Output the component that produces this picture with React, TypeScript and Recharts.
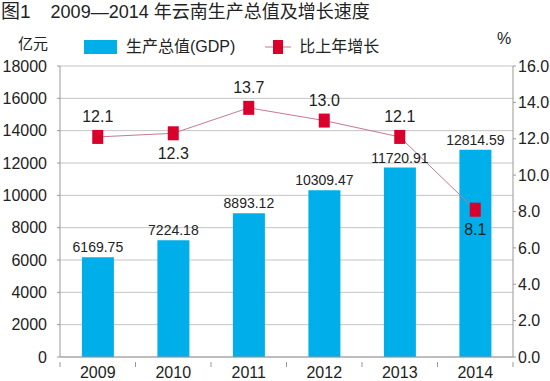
import React from "react";
import {
  ComposedChart,
  Bar,
  Line,
  XAxis,
  YAxis,
  CartesianGrid,
  LabelList,
} from "recharts";

const years = ["2009", "2010", "2011", "2012", "2013", "2014"];
const gdp = [6169.75, 7224.18, 8893.12, 10309.47, 11720.91, 12814.59];
const growth = [12.1, 12.3, 13.7, 13.0, 12.1, 8.1];
const gdpTicks = [0, 2000, 4000, 6000, 8000, 10000, 12000, 14000, 16000, 18000];
const growthTicks = [0, 2, 4, 6, 8, 10, 12, 14, 16];
// which growth labels sit under the marker
const labelBelow = ["2010", "2014"];

const FONT = '"Liberation Sans", "Noto Sans CJK SC", sans-serif';
const BAR_COLOR = "#00aeea";
const MARK_COLOR = "#d9002c";
const LINE_COLOR = "#c47a8c";
const TEXT = "#222";
const AXIS = "#999";

const data = years.map((y, i) => ({ year: y, gdp: gdp[i], growth: growth[i] }));

function Square(props: any) {
  const { cx, cy } = props;
  if (cx == null || cy == null) return null;
  return <rect x={cx - 5.5} y={cy - 7} width={11} height={14} fill={MARK_COLOR} />;
}

function GrowthLabel(props: any) {
  const { x, y, value, index } = props;
  const below = labelBelow.includes(years[index]);
  return (
    <text
      x={x}
      y={below ? y + 20 : y - 20}
      textAnchor="middle"
      dominantBaseline="central"
      fontSize={16}
      fill={TEXT}
      fontFamily={FONT}
    >
      {Number(value).toFixed(1)}
    </text>
  );
}

// year label plus small tick marks on the category boundaries
function YearTick(props: any) {
  const { x, y, payload, index } = props;
  const half = payload?.offset;
  const top = y - 4;
  return (
    <g>
      {half ? <line x1={x - half} x2={x - half} y1={top - 1} y2={top + 4} stroke={AXIS} /> : null}
      {half && index === years.length - 1 ? (
        <line x1={x + half} x2={x + half} y1={top - 1} y2={top + 4} stroke={AXIS} />
      ) : null}
      <text x={x} y={y} dy="0.71em" textAnchor="middle" fontSize={16} fill={TEXT} fontFamily={FONT}>
        {payload.value}
      </text>
    </g>
  );
}

function LegendBox() {
  return (
    <div
      style={{
        position: "absolute",
        left: 84,
        top: 38,
        display: "flex",
        alignItems: "center",
        fontFamily: FONT,
        fontSize: 16,
        color: TEXT,
        lineHeight: "18px",
      }}
    >
      <span style={{ display: "inline-block", width: 33, height: 14, background: BAR_COLOR }} />
      <span style={{ marginLeft: 9 }}>生产总值(GDP)</span>
      <svg width={26} height={16} style={{ marginLeft: 30 }}>
        <line x1={0} y1={8} x2={26} y2={8} stroke={LINE_COLOR} strokeWidth={1} />
        <rect x={8} y={1} width={10} height={14} fill={MARK_COLOR} />
      </svg>
      <span style={{ marginLeft: 8 }}>比上年增长</span>
    </div>
  );
}

export default function App() {
  return (
    <div style={{ position: "absolute", left: 0, top: 0, width: 550, height: 381, background: "#fff" }}>
      <ComposedChart
        width={550}
        height={381}
        data={data}
        margin={{ top: 66, right: 0, bottom: 0, left: 0 }}
        barCategoryGap="29%"
        style={{ fontFamily: FONT }}
      >
        <CartesianGrid yAxisId="left" vertical={false} stroke="#c4c4c4" />
        <XAxis
          dataKey="year"
          height={24}
          tickLine={false}
          axisLine={{ stroke: AXIS }}
          tick={<YearTick />}
          tickMargin={4}
        />
        <YAxis
          yAxisId="left"
          width={60}
          domain={[0, 18000]}
          ticks={gdpTicks}
          interval={0}
          axisLine={{ stroke: AXIS }}
          tickLine={{ stroke: AXIS }}
          tickSize={3}
          tickMargin={10}
          tick={{ fontSize: 16, fill: TEXT }}
        />
        <YAxis
          yAxisId="right"
          orientation="right"
          width={37}
          domain={[0, 16]}
          ticks={growthTicks}
          interval={0}
          tickFormatter={(v: number) => v.toFixed(1)}
          axisLine={{ stroke: AXIS }}
          tickLine={{ stroke: AXIS }}
          tickSize={3}
          tickMargin={2}
          tick={{ fontSize: 16, fill: TEXT, textAnchor: "start" }}
        />
        <Bar yAxisId="left" dataKey="gdp" fill={BAR_COLOR} isAnimationActive={false}>
          <LabelList
            dataKey="gdp"
            position="top"
            offset={5}
            formatter={(v: any) => Number(v).toFixed(2)}
            style={{ fontSize: 14, fill: TEXT }}
          />
        </Bar>
        <Line
          yAxisId="right"
          dataKey="growth"
          stroke={LINE_COLOR}
          strokeWidth={1}
          dot={<Square />}
          activeDot={false}
          isAnimationActive={false}
        >
          <LabelList dataKey="growth" content={<GrowthLabel />} />
        </Line>
      </ComposedChart>
      <div
        style={{
          position: "absolute",
          left: 1,
          top: 1,
          fontFamily: FONT,
          fontSize: 18,
          color: TEXT,
          whiteSpace: "pre",
          lineHeight: "22px",
        }}
      >
        <span style={{ fontSize: 19 }}>图1</span>
        {"    "}2009—2014 年云南生产总值及增长速度
      </div>
      <div style={{ position: "absolute", left: 18, top: 32, fontFamily: FONT, fontSize: 15, color: TEXT }}>
        亿元
      </div>
      <div style={{ position: "absolute", left: 497, top: 30, fontFamily: FONT, fontSize: 16, color: TEXT }}>
        %
      </div>
      <LegendBox />
    </div>
  );
}
